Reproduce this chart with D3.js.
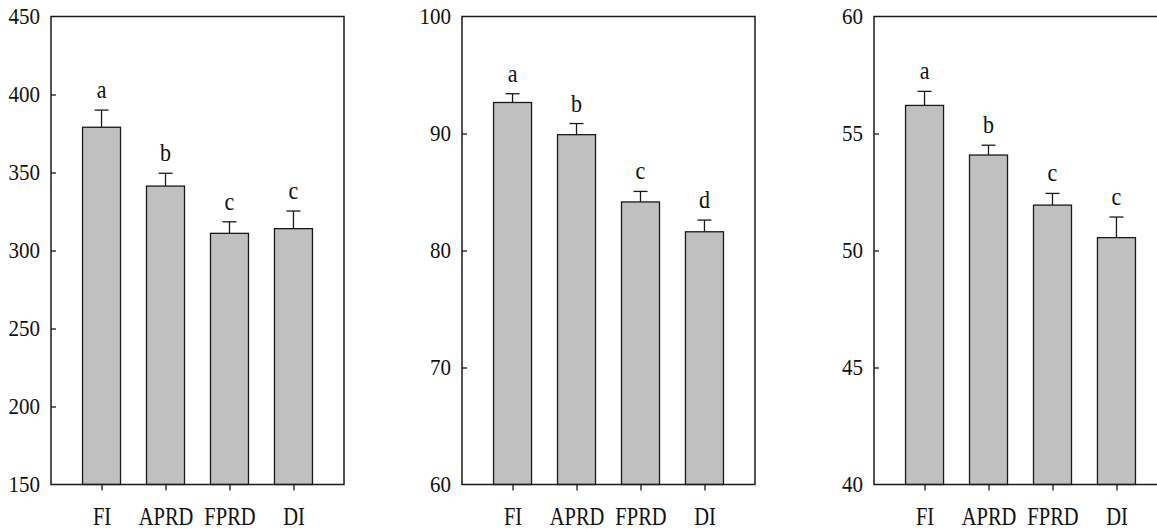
<!DOCTYPE html>
<html>
<head>
<meta charset="utf-8">
<style>
    body { margin: 0; background: #fff; }
    svg { display: block; font-family: 'Liberation Serif', 'Times New Roman', serif; }
    .bar { fill: #c0c0c0; stroke: #1a1a1a; stroke-width: 1.3; }
    .err { stroke: #1a1a1a; stroke-width: 1.3; fill: none; }
    .frame { stroke: #1a1a1a; stroke-width: 1.5; fill: none; }
    .tick line { stroke: #1a1a1a; stroke-width: 1.3; }
</style>
</head>
<body>
<svg width="1157" height="529"></svg>

<script src="https://d3js.org/d3.v7.min.js"></script>
<script>
// treatments on the x axis
const categories = ["FI", "APRD", "FPRD", "DI"];

// panel 1
const means1 = [379, 341.3, 311, 314];
const errs1 = [11, 8.2, 7.4, 11.3];
const letters1 = ["a", "b", "c", "c"];
const ticks1 = [150, 200, 250, 300, 350, 400, 450];

// panel 2
const means2 = [92.65, 89.9, 84.15, 81.6];
const errs2 = [0.75, 0.95, 0.9, 1.0];
const letters2 = ["a", "b", "c", "d"];
const ticks2 = [60, 70, 80, 90, 100];

// panel 3
const means3 = [56.2, 54.08, 51.94, 50.55];
const errs3 = [0.6, 0.42, 0.5, 0.88];
const letters3 = ["a", "b", "c", "c"];
const ticks3 = [40, 45, 50, 55, 60];

const panels = [
    { means: means1, errs: errs1, letters: letters1, ticks: ticks1, left: 51 },
    { means: means2, errs: errs2, letters: letters2, ticks: ticks2, left: 462 },
    { means: means3, errs: errs3, letters: letters3, ticks: ticks3, left: 874 }
];

const svg = d3.select("svg");
const plotTop = 16.5, plotBottom = 484.5, plotW = 293, barW = 38, capW = 14;

panels.forEach(p => {
    const g = svg.append("g");

    const x = d3.scalePoint()
        .domain(categories)
        .range([p.left, p.left + plotW])
        .padding(0.79);

    const y = d3.scaleLinear()
        .domain(d3.extent(p.ticks))
        .range([plotBottom, plotTop]);

    const rows = categories.map((c, i) => ({ c, m: p.means[i], e: p.errs[i], l: p.letters[i] }));

    // error bars (upper half only)
    g.selectAll(".err-v").data(rows).join("line")
        .attr("class", "err")
        .attr("x1", d => x(d.c)).attr("x2", d => x(d.c))
        .attr("y1", d => y(d.m)).attr("y2", d => y(d.m + d.e));
    g.selectAll(".err-h").data(rows).join("line")
        .attr("class", "err")
        .attr("x1", d => x(d.c) - capW / 2).attr("x2", d => x(d.c) + capW / 2)
        .attr("y1", d => y(d.m + d.e)).attr("y2", d => y(d.m + d.e));

    g.selectAll("rect").data(rows).join("rect")
        .attr("class", "bar")
        .attr("x", d => x(d.c) - barW / 2)
        .attr("width", barW)
        .attr("y", d => y(d.m))
        .attr("height", d => y(y.domain()[0]) - y(d.m));

    // significance letters, slightly stretched like the original
    g.selectAll(".sig").data(rows).join("text")
        .attr("class", "sig")
        .attr("transform", d => `translate(${x(d.c)},${y(d.m + d.e) - 12}) scale(1,1.15)`)
        .attr("text-anchor", "middle")
        .attr("font-size", 22)
        .attr("fill", "#111")
        .text(d => d.l);

    // frame
    g.append("rect")
        .attr("class", "frame")
        .attr("x", p.left).attr("y", plotTop)
        .attr("width", plotW).attr("height", plotBottom - plotTop);

    const yAxis = d3.axisLeft(y)
        .tickValues(p.ticks)
        .tickSize(-5)
        .tickPadding(11)
        .tickFormat(d3.format("d"));
    g.append("g")
        .attr("transform", `translate(${p.left},0)`)
        .call(yAxis)
        .call(a => a.select(".domain").remove())
        .call(a => a.selectAll(".tick line").filter(d => d === y.domain()[0] || d === y.domain()[1]).remove())
        .call(a => a.selectAll("text")
            .attr("font-size", 21).attr("fill", "#111")
            .attr("font-family", "'Liberation Serif', serif")
            .attr("transform", "scale(1,1.07)"));

    const xAxis = d3.axisBottom(x)
        .tickSize(6)
        .tickPadding(20);
    g.append("g")
        .attr("transform", `translate(0,${plotBottom})`)
        .call(xAxis)
        .call(a => a.select(".domain").remove())
        .call(a => a.selectAll("text")
            .attr("font-size", 20.5).attr("fill", "#111")
            .attr("font-family", "'Liberation Serif', serif")
            .attr("y", 0).attr("dy", 0)
            .attr("transform", "translate(0,40.5) scale(1,1.2)"));
});
</script>
</body>
</html>
